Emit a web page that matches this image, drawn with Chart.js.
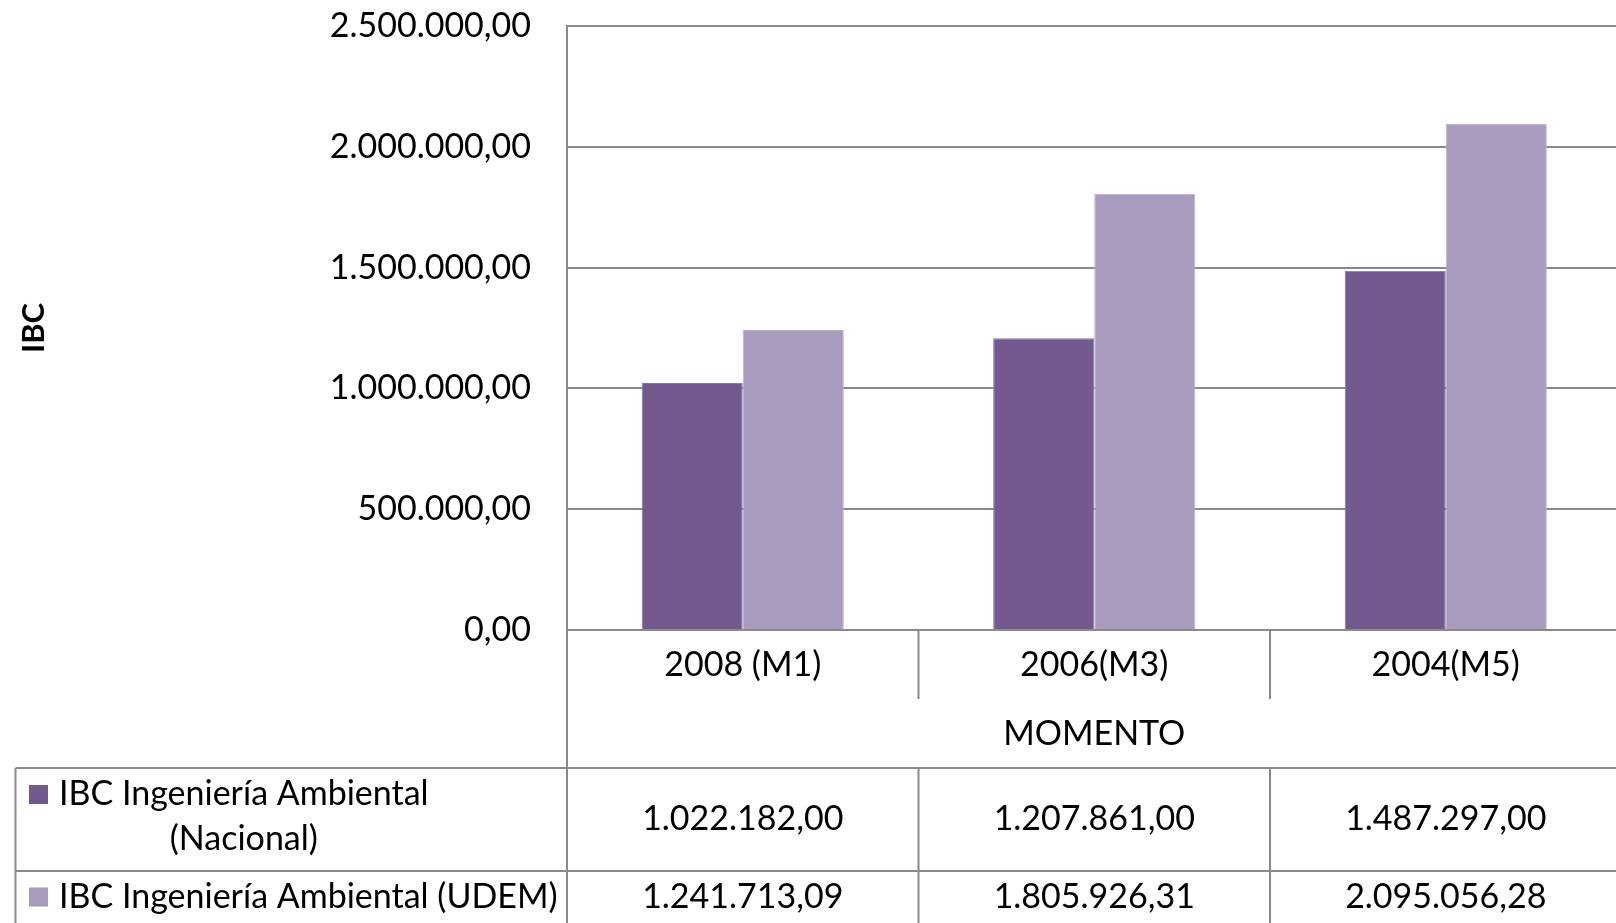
<!DOCTYPE html>
<html>
<head>
<meta charset="utf-8">
<script src="https://cdn.jsdelivr.net/npm/chart.js@4.4.1/dist/chart.umd.min.js"></script>
<style>
  html, body { margin: 0; padding: 0; background: #fff; overflow: hidden; }
  canvas { position: absolute; left: 0; top: 0; }
</style>
</head>
<body>
<canvas id="ibcChart" width="1630" height="923"></canvas>
<script>
// data (values come straight from its data table)
const categories = ['2008 (M1)', '2006(M3)', '2004(M5)'];
const nacional = [1022182.00, 1207861.00, 1487297.00];
const udem = [1241713.09, 1805926.31, 2095056.28];
const seriesLines = [
    ['IBC Ingeniería Ambiental', '(Nacional)'],
    ['IBC Ingeniería Ambiental (UDEM)']
];
const axisTitleY = 'IBC';
const axisTitleX = 'MOMENTO';

const FONT = 'Lato, "Open Sans", sans-serif';
const FONT_SIZE = 34;
const lineColor = '#8a8a8a';
const colors = ['#725a8f', '#a99bbd'];

// 1234567.8 -> "1.234.567,80"
function fmt(v) {
    const parts = v.toFixed(2).split('.');
    return parts[0].replace(/\B(?=(\d{3})+(?!\d))/g, '.') + ',' + parts[1];
}

// draws the Excel style data table under the plot
const dataTable = {
    id: 'dataTable',
    afterDraw(chart) {
        const ctx = chart.ctx;
        const x = chart.scales.x;
        const area = chart.chartArea;
        const H = chart.height;
        const n = categories.length;
        const colW = (x.right - x.left) / n;
        const edges = [];
        for (let i = 0; i <= n; i++) edges.push(x.left + i * colW);

        const labelRowBottom = area.bottom + 69;
        const titleY = area.bottom + 104;
        const tableTop = area.bottom + 138;
        const row1H = 103;
        const tableLeft = 15.5;

        ctx.save();
        ctx.strokeStyle = lineColor;
        ctx.lineWidth = 2;
        ctx.beginPath();
        ctx.moveTo(x.left, area.bottom); ctx.lineTo(x.left, H);
        for (let i = 1; i < n; i++) {
            ctx.moveTo(edges[i], area.bottom); ctx.lineTo(edges[i], labelRowBottom);
            ctx.moveTo(edges[i], tableTop); ctx.lineTo(edges[i], H);
        }
        ctx.moveTo(tableLeft, tableTop); ctx.lineTo(chart.width, tableTop);
        ctx.moveTo(tableLeft, tableTop + row1H); ctx.lineTo(chart.width, tableTop + row1H);
        ctx.moveTo(tableLeft, tableTop); ctx.lineTo(tableLeft, H);
        ctx.stroke();

        ctx.fillStyle = '#000';
        ctx.font = FONT_SIZE + 'px ' + FONT;
        ctx.textAlign = 'center';
        ctx.textBaseline = 'middle';
        ctx.fillText(axisTitleX, (x.left + x.right) / 2, titleY);

        const series = [nacional, udem];
        const rowCenters = [tableTop + 51, tableTop + row1H + 26];
        series.forEach((vals, r) => {
            vals.forEach((v, i) => {
                ctx.fillText(fmt(v), edges[i] + colW / 2, rowCenters[r]);
            });
        });

        // series names with their colour keys
        const textX = 59;
        const lineStep = 44.5;
        seriesLines.forEach((lines, r) => {
            const firstY = r === 0 ? tableTop + 26.5 : rowCenters[1];
            ctx.fillStyle = colors[r];
            ctx.fillRect(29, firstY - 9.5, 19, 19);
            ctx.fillStyle = '#000';
            const w0 = ctx.measureText(lines[0]).width;
            lines.forEach((txt, k) => {
                if (k === 0) {
                    ctx.textAlign = 'left';
                    ctx.fillText(txt, textX, firstY);
                } else {
                    ctx.textAlign = 'center';
                    ctx.fillText(txt, textX + w0 / 2, firstY + k * lineStep);
                }
            });
        });
        ctx.restore();
    }
};

const ctx = document.getElementById('ibcChart').getContext('2d');
new Chart(ctx, {
    type: 'bar',
    data: {
        labels: categories,
        datasets: [{
            label: seriesLines[0].join(' '),
            data: nacional,
            backgroundColor: colors[0],
            borderColor: '#8a76a3',
            borderWidth: 1
        }, {
            label: seriesLines[1].join(' '),
            data: udem,
            backgroundColor: colors[1],
            borderColor: '#bdb1cd',
            borderWidth: 1
        }]
    },
    options: {
        responsive: false,
        animation: false,
        devicePixelRatio: 1,
        layout: { padding: { left: 0, top: 26, right: 8.5, bottom: 0 } },
        datasets: {
            bar: { categoryPercentage: 0.575, barPercentage: 1.0 }
        },
        plugins: {
            legend: { display: false },
            tooltip: { enabled: false }
        },
        scales: {
            x: {
                grid: { display: false },
                border: { display: true, color: lineColor, width: 2 },
                ticks: {
                    color: '#000',
                    font: { family: FONT, size: FONT_SIZE },
                    padding: 7,
                    maxRotation: 0
                },
                afterFit(scale) {
                    scale.height = 293;
                    scale.paddingLeft = 0;
                    scale.paddingRight = 0;
                }
            },
            y: {
                min: 0,
                max: 2500000,
                ticks: {
                    stepSize: 500000,
                    color: '#000',
                    font: { family: FONT, size: FONT_SIZE },
                    padding: 36,
                    callback: v => fmt(v)
                },
                grid: { color: lineColor, lineWidth: 2, drawTicks: false },
                border: { display: true, color: lineColor, width: 2 },
                title: {
                    display: true,
                    text: axisTitleY,
                    color: '#000',
                    font: { family: FONT, size: 31, weight: 'bold' },
                    padding: { top: 15, bottom: 0 }
                },
                afterFit(scale) {
                    scale.width = 567;
                    scale.paddingTop = 0;
                    scale.paddingBottom = 0;
                }
            }
        }
    },
    plugins: [dataTable]
});
</script>
</body>
</html>
